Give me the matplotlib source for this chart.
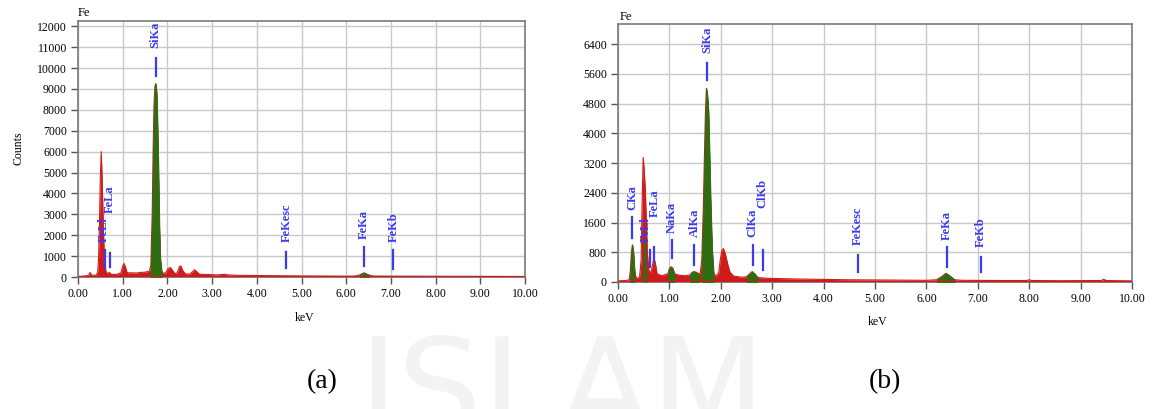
import numpy as np
import matplotlib.pyplot as plt

plt.rcParams["font.family"] = ["Liberation Serif", "DejaVu Serif"]

# ---------------------------------------------------------------------------
# EDS spectra: energy (keV) and counts
# ---------------------------------------------------------------------------
a_kev = [0.00, 0.10, 0.20, 0.24, 0.27, 0.30, 0.40, 0.44, 0.46, 0.48, 0.50, 0.52,
         0.535, 0.55, 0.57, 0.59, 0.62, 0.66, 0.70, 0.74, 0.85, 0.96, 1.00, 1.03,
         1.06, 1.10, 1.20, 1.30, 1.40, 1.50, 1.60, 1.63, 1.66, 1.68, 1.70, 1.72,
         1.74, 1.76, 1.78, 1.80, 1.82, 1.84, 1.87, 1.90, 1.96, 2.02, 2.07, 2.12,
         2.17, 2.22, 2.27, 2.30, 2.34, 2.40, 2.50, 2.56, 2.61, 2.66, 2.72, 2.90,
         3.10, 3.30, 3.35, 3.60, 4.00, 4.50, 5.00, 5.50, 6.00, 6.20, 6.30, 6.40,
         6.50, 6.60, 7.00, 8.00, 9.00, 10.00]
a_counts = [20, 40, 60, 90, 220, 90, 80, 200, 900, 2600, 4800, 6000,
            5000, 3800, 2200, 900, 300, 150, 220, 130, 120, 200, 520, 650,
            480, 200, 200, 190, 220, 230, 280, 600, 3000, 6000, 8200, 9100,
            9250, 8800, 7200, 5000, 2500, 900, 300, 180, 200, 420, 450, 300,
            160, 200, 500, 530, 320, 150, 140, 250, 350, 250, 130, 120,
            100, 130, 100, 80, 70, 60, 50, 45, 40, 45, 100, 200,
            100, 45, 40, 35, 30, 25]
a_green = [(1.63, 1.87), (6.22, 6.58)]

b_kev = [0.00, 0.15, 0.22, 0.24, 0.26, 0.28, 0.30, 0.32, 0.35, 0.38, 0.42, 0.45,
         0.47, 0.49, 0.51, 0.53, 0.55, 0.57, 0.60, 0.64, 0.67, 0.70, 0.73, 0.76,
         0.85, 0.97, 1.00, 1.03, 1.06, 1.10, 1.20, 1.30, 1.40, 1.44, 1.48, 1.53,
         1.57, 1.60, 1.63, 1.66, 1.68, 1.70, 1.72, 1.74, 1.76, 1.78, 1.80, 1.83,
         1.86, 1.90, 1.96, 1.99, 2.02, 2.05, 2.09, 2.13, 2.18, 2.25, 2.40, 2.50,
         2.56, 2.61, 2.66, 2.72, 2.90, 3.50, 4.00, 4.50, 5.00, 5.50, 6.00, 6.20,
         6.30, 6.38, 6.45, 6.55, 6.70, 7.50, 7.95, 8.00, 8.05, 8.60, 9.40, 9.45,
         9.50, 10.00]
b_counts = [30, 40, 60, 300, 800, 1000, 800, 350, 120, 100, 130, 600,
            2200, 3350, 3000, 2500, 1700, 800, 300, 250, 450, 650, 480, 220,
            170, 220, 360, 410, 380, 220, 180, 170, 190, 260, 280, 260,
            210, 250, 600, 2000, 3300, 4500, 5210, 5000, 4600, 3500, 2300, 900,
            250, 150, 250, 600, 850, 900, 750, 500, 260, 160, 130, 140,
            220, 280, 220, 120, 100, 80, 70, 60, 55, 50, 45, 60,
            150, 235, 170, 60, 45, 40, 40, 60, 40, 35, 40, 70,
            40, 30]
b_green = [(0.23, 0.34), (0.95, 1.12), (1.40, 1.57), (1.62, 1.86),
           (2.50, 2.74), (6.20, 6.56)]
# fitted Fe L component sitting inside the red Fe L peak
b_fel_kev = [0.47, 0.49, 0.51, 0.53, 0.55, 0.57]
b_fel_counts = [0, 900, 1300, 1100, 300, 0]

# ---------------------------------------------------------------------------
# Peak markers: line energy, bar (low, high), label x and label base (counts)
# ---------------------------------------------------------------------------
a_names = ["FeLl", "FeLa", "SiKa", "FeKesc", "FeKa", "FeKb"]
a_line_kev = [0.615, 0.705, 1.739, 4.66, 6.398, 7.057]
a_bar_lo = [430, 480, 9600, 430, 530, 380]
a_bar_hi = [1300, 1150, 10500, 1200, 1440, 1300]
a_label_kev = [0.58, 0.72, 1.739, 4.66, 6.398, 7.057]
a_label_y = [1680, 3070, 10950, 1680, 1824, 1680]

b_names = ["CKa", "FeLl", "FeLa", "NaKa", "AlKa", "SiKa", "ClKa", "ClKb",
           "FeKesc", "FeKa", "FeKb"]
b_line_kev = [0.277, 0.615, 0.705, 1.041, 1.486, 1.739, 2.621, 2.815,
              4.66, 6.398, 7.057]
b_bar_lo = [1180, 410, 550, 640, 460, 5430, 460, 320, 280, 410, 280]
b_bar_hi = [1760, 860, 950, 1130, 1000, 5880, 1000, 860, 730, 950, 680]
b_label_kev = [0.277, 0.54, 0.72, 1.041, 1.486, 1.739, 2.621, 2.815,
               4.66, 6.398, 7.057]
b_label_y = [1940, 1080, 1760, 1320, 1220, 6150, 1210, 1980, 1000, 1130, 950]

RED = "#cf1b1b"
GREEN = "#2f6d12"
BLUE = "#3a3af0"

fig = plt.figure(figsize=(11.55, 4.09), dpi=100)

# faint watermark behind everything
fig.text(0.487, -0.06, "ISLAM", fontsize=96, color="#f3f3f3",
         family="DejaVu Sans", ha="center", va="baseline", zorder=0)


def draw_spectrum(ax, kev, counts, green, ymax, ystep, names, line_kev,
                  bar_lo, bar_hi, label_kev, label_y):
    kev = np.asarray(kev)
    counts = np.asarray(counts)
    ax.fill_between(kev, 0, counts, color=RED, lw=0, zorder=2)
    ax.plot(kev, counts, color=RED, lw=0.8, zorder=2)
    for lo, hi in green:
        m = (kev >= lo) & (kev <= hi)
        ax.fill_between(kev[m], 0, counts[m], color=GREEN, lw=0.6,
                        edgecolor=GREEN, zorder=3)
    ax.axhline(0, color=RED, lw=2.2, zorder=4)

    for name, x, lo, hi, lx, ly in zip(names, line_kev, bar_lo, bar_hi,
                                       label_kev, label_y):
        ax.plot([x, x], [lo, hi], color=BLUE, lw=1.6, zorder=5)
        ax.text(lx, ly, name, rotation=90, ha="center", va="bottom",
                color=BLUE, fontsize=9, fontweight="bold", zorder=5)

    ax.set_xlim(0, 10)
    ax.set_ylim(0, ymax)
    ax.set_xticks(np.arange(0, 11, 1))
    ax.set_xticklabels([f"{v:.2f}" for v in np.arange(0, 11, 1)])
    ax.set_yticks(np.arange(0, ymax, ystep))
    ax.grid(color="#c9c9c9", lw=1.0, zorder=0)
    ax.set_axisbelow(True)
    for sp in ax.spines.values():
        sp.set_color("#7a7a7a")
        sp.set_linewidth(1.2)
    ax.tick_params(direction="out", length=5, width=1, color="#555555",
                   labelsize=8.5, pad=3)


W, H = 1155, 409

ax_a = fig.add_axes([78 / W, 1 - 277 / H, 447 / W, 256 / H])
draw_spectrum(ax_a, a_kev, a_counts, a_green, 12250, 1000, a_names,
              a_line_kev, a_bar_lo, a_bar_hi, a_label_kev, a_label_y)

ax_b = fig.add_axes([618 / W, 1 - 282 / H, 514 / W, 258 / H])
draw_spectrum(ax_b, b_kev, b_counts, b_green, 6940, 800, b_names,
              b_line_kev, b_bar_lo, b_bar_hi, b_label_kev, b_label_y)
ax_b.fill_between(b_fel_kev, 0, b_fel_counts, color=GREEN, lw=0, zorder=3)

# element tag, axis titles and panel letters
fig.text(78 / W, 1 - 13 / H, "Fe", fontsize=9, va="center", ha="left")
fig.text(620 / W, 1 - 17 / H, "Fe", fontsize=9, va="center", ha="left")
fig.text(18 / W, 1 - 148 / H, "Counts", fontsize=8.5, rotation=90,
         ha="center", va="center")
fig.text(305 / W, 1 - 318 / H, "keV", fontsize=8.5, ha="center", va="center")
fig.text(878 / W, 1 - 322 / H, "keV", fontsize=8.5, ha="center", va="center")
fig.text(322 / W, 1 - 382 / H, "(a)", fontsize=20, ha="center", va="center")
fig.text(885 / W, 1 - 382 / H, "(b)", fontsize=20, ha="center", va="center")

fig.savefig("out.png", dpi=100)
